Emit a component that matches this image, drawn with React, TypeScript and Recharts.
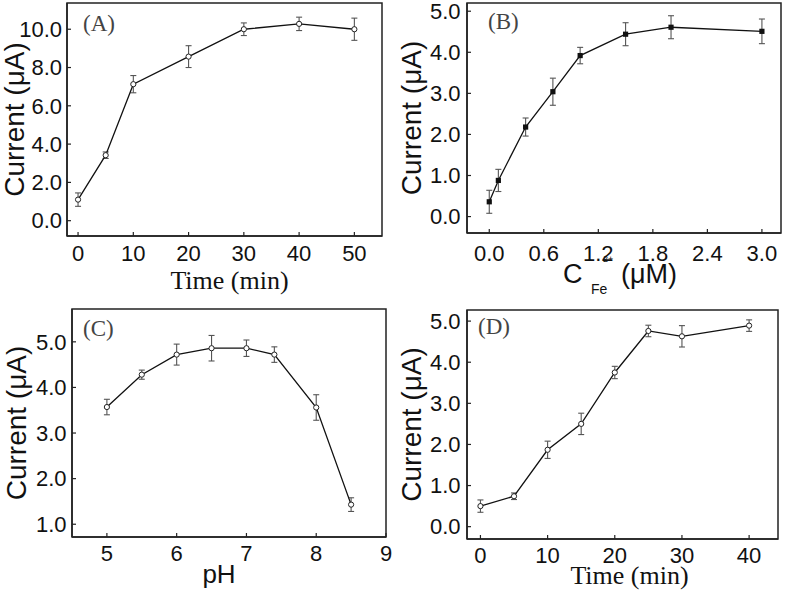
import {
  LineChart,
  Line,
  XAxis,
  YAxis,
  ErrorBar,
  ReferenceArea,
  Label,
} from "recharts";

// (A) current vs incubation time
const timeA = [0, 5, 10, 20, 30, 40, 50];
const currentA = [1.1, 3.42, 7.13, 8.57, 10.0, 10.28, 10.0];
const errA = [0.35, 0.17, 0.45, 0.57, 0.33, 0.35, 0.58];

// (B) current vs Fe2+ concentration
const concB = [0, 0.1, 0.4, 0.7, 1.0, 1.5, 2.0, 3.0];
const currentB = [0.36, 0.88, 2.18, 3.04, 3.92, 4.44, 4.61, 4.51];
const errB = [0.28, 0.27, 0.22, 0.33, 0.2, 0.28, 0.28, 0.3];

// (C) current vs pH
const phC = [5, 5.5, 6, 6.5, 7, 7.4, 8, 8.5];
const currentC = [3.57, 4.28, 4.72, 4.86, 4.86, 4.72, 3.56, 1.43];
const errC = [0.17, 0.1, 0.23, 0.28, 0.18, 0.17, 0.28, 0.15];

// (D) current vs reaction time
const timeD = [0, 5, 10, 15, 20, 25, 30, 40];
const currentD = [0.5, 0.74, 1.87, 2.5, 3.75, 4.76, 4.63, 4.89];
const errD = [0.15, 0.08, 0.21, 0.26, 0.15, 0.14, 0.26, 0.14];

const ticksA = [0, 10, 20, 30, 40, 50];
const ticksB = [0, 0.6, 1.2, 1.8, 2.4, 3.0];
const ticksC = [5, 6, 7, 8, 9];
const ticksD = [0, 10, 20, 30, 40];
const yTicksA = [0, 2, 4, 6, 8, 10];
const yTicksB = [0, 1, 2, 3, 4, 5];
const yTicksC = [1, 2, 3, 4, 5];
const yTicksD = [0, 1, 2, 3, 4, 5];

const SANS = "'Liberation Sans', Arial, sans-serif";
const SERIF = "'Liberation Serif', 'Times New Roman', serif";
const INK = "#111";
const EDGE = "#222";

const rows = (xs: number[], ys: number[], es: number[]) =>
  xs.map((x, i) => ({ x, y: ys[i], e: es[i] }));

const circleDot = (p: any) => (
  <circle key={p.index} cx={p.cx} cy={p.cy} r={2.6} fill="#fff" stroke="#222" strokeWidth={1} />
);
const squareDot = (p: any) => (
  <rect key={p.index} x={p.cx - 2.6} y={p.cy - 2.6} width={5.2} height={5.2} fill="#111" />
);

// inward tick marks, labels placed by hand
const xTick = (fmt: (v: number) => string, base: number) => (p: any) => (
  <g>
    <line x1={p.x} x2={p.x} y1={p.y} y2={p.y - 4} stroke={EDGE} strokeWidth={1.2} />
    <text x={p.x} y={p.y + base} textAnchor="middle" fontFamily={SANS} fontSize={22} fill={INK}>
      {fmt(p.payload.value)}
    </text>
  </g>
);
const yTick = (gap: number) => (p: any) => (
  <g>
    <line x1={p.x} x2={p.x + 4} y1={p.y} y2={p.y} stroke={EDGE} strokeWidth={1.2} />
    <text x={p.x - gap} y={p.y + 7.8} textAnchor="end" fontFamily={SANS} fontSize={22} fill={INK}>
      {p.payload.value.toFixed(1)}
    </text>
  </g>
);

const tag = (text: string, dx: number, dy: number) => (p: any) => (
  <text x={p.viewBox.x + dx} y={p.viewBox.y + dy} fontFamily={SERIF} fontSize={23} fill="#444">
    {text}
  </text>
);

const yTitle = (cx: number) => (p: any) => {
  const vb = p.viewBox;
  const x = vb.x + cx + 10;
  const y = vb.y + vb.height / 2;
  return (
    <text x={x} y={y} transform={`rotate(-90 ${x} ${y})`} textAnchor="middle" fontFamily={SANS} fontSize={28} fill={INK}>
      Current (μA)
    </text>
  );
};

const xTitle = (text: string, font: string, size: number, dx: number, dy: number) => (p: any) => {
  const vb = p.viewBox;
  return (
    <text x={vb.x + vb.width / 2 + dx} y={vb.y + dy} textAnchor="middle" fontFamily={font} fontSize={size} fill={INK}>
      {text}
    </text>
  );
};

const feTitle = (p: any) => {
  const vb = p.viewBox;
  const x0 = vb.x + 96;
  const b = vb.y + 50;
  return (
    <text fontFamily={SANS} fill={INK} fontSize={27}>
      <tspan x={x0} y={b}>C</tspan>
      <tspan x={x0 + 28} y={b + 11} fontSize={14}>Fe</tspan>
      <tspan x={x0 + 40} y={b - 21} fontSize={9}>2+</tspan>
      <tspan x={x0 + 58} y={b}>(μM)</tspan>
    </text>
  );
};

interface PanelProps {
  left: number;
  top: number;
  width: number;
  height: number;
  margin: { top: number; right: number; bottom: number; left: number };
  yWidth: number;
  xHeight: number;
  data: { x: number; y: number; e: number }[];
  xDomain: [number, number];
  yDomain: [number, number];
  xTicks: number[];
  yTicks: number[];
  xFmt: (v: number) => string;
  xBase: number;
  yGap: number;
  dot: (p: any) => any;
  tagContent: (p: any) => any;
  xLabel: (p: any) => any;
  yLabel: (p: any) => any;
}

function Panel(props: PanelProps) {
  return (
    <div style={{ position: "absolute", left: props.left, top: props.top }}>
      <LineChart width={props.width} height={props.height} data={props.data} margin={props.margin}>
        <XAxis
          type="number"
          dataKey="x"
          domain={props.xDomain}
          ticks={props.xTicks}
          interval={0}
          allowDataOverflow
          height={props.xHeight}
          tickLine={false}
          tickSize={0}
          tickMargin={0}
          tick={xTick(props.xFmt, props.xBase)}
          stroke={EDGE}
          strokeWidth={1.5}
        >
          <Label content={props.xLabel} />
        </XAxis>
        <YAxis
          type="number"
          domain={props.yDomain}
          ticks={props.yTicks}
          interval={0}
          allowDataOverflow
          width={props.yWidth}
          tickLine={false}
          tickSize={0}
          tickMargin={0}
          tick={yTick(props.yGap)}
          stroke={EDGE}
          strokeWidth={1.5}
        >
          <Label content={props.yLabel} />
        </YAxis>
        <ReferenceArea
          x1={props.xDomain[0]}
          x2={props.xDomain[1]}
          y1={props.yDomain[0]}
          y2={props.yDomain[1]}
          fill="none"
          fillOpacity={0}
          stroke={EDGE}
          strokeWidth={1.5}
          ifOverflow="visible"
        >
          <Label content={props.tagContent} />
        </ReferenceArea>
        <Line
          type="linear"
          dataKey="y"
          stroke={INK}
          strokeWidth={1.3}
          dot={props.dot}
          activeDot={false}
          isAnimationActive={false}
        >
          <ErrorBar dataKey="e" direction="y" width={3} stroke="#555" strokeWidth={1.1} />
        </Line>
      </LineChart>
    </div>
  );
}

export default function App() {
  return (
    <div
      style={{
        position: "absolute",
        left: 0,
        top: 0,
        width: 787,
        height: 594,
        background: "#fff",
        overflow: "hidden",
      }}
    >
      <Panel
        left={0}
        top={0}
        width={395}
        height={297}
        margin={{ top: 3, right: 13, bottom: 0, left: 0 }}
        yWidth={67}
        xHeight={61}
        data={rows(timeA, currentA, errA)}
        xDomain={[-2, 55]}
        yDomain={[-0.8, 11.37]}
        xTicks={ticksA}
        yTicks={yTicksA}
        xFmt={(v) => String(v)}
        xBase={25}
        yGap={5}
        dot={circleDot}
        tagContent={tag("(A)", 16, 28)}
        xLabel={xTitle("Time (min)", SERIF, 26, 5, 53)}
        yLabel={yTitle(14)}
      />
      <Panel
        left={395}
        top={0}
        width={392}
        height={297}
        margin={{ top: 3, right: 6, bottom: 0, left: 0 }}
        yWidth={72}
        xHeight={64}
        data={rows(concB, currentB, errB)}
        xDomain={[-0.245, 3.21]}
        yDomain={[-0.4, 5.2]}
        xTicks={ticksB}
        yTicks={yTicksB}
        xFmt={(v) => v.toFixed(1)}
        xBase={28}
        yGap={6.5}
        dot={squareDot}
        tagContent={tag("(B)", 21, 26)}
        xLabel={feTitle}
        yLabel={yTitle(16)}
      />
      <Panel
        left={0}
        top={297}
        width={395}
        height={297}
        margin={{ top: 12, right: 9, bottom: 0, left: 0 }}
        yWidth={72}
        xHeight={57}
        data={rows(phC, currentC, errC)}
        xDomain={[4.5, 9]}
        yDomain={[0.72, 5.72]}
        xTicks={ticksC}
        yTicks={yTicksC}
        xFmt={(v) => String(v)}
        xBase={24}
        yGap={5.5}
        dot={circleDot}
        tagContent={tag("(C)", 11, 27)}
        xLabel={xTitle("pH", SANS, 26, -10, 46)}
        yLabel={yTitle(16)}
      />
      <Panel
        left={395}
        top={297}
        width={392}
        height={297}
        margin={{ top: 13, right: 9, bottom: 0, left: 0 }}
        yWidth={72}
        xHeight={55}
        data={rows(timeD, currentD, errD)}
        xDomain={[-2, 44.3]}
        yDomain={[-0.3, 5.27]}
        xTicks={ticksD}
        yTicks={yTicksD}
        xFmt={(v) => String(v)}
        xBase={23.5}
        yGap={6.5}
        dot={circleDot}
        tagContent={tag("(D)", 11, 24)}
        xLabel={xTitle("Time (min)", SERIF, 26, 7, 45)}
        yLabel={yTitle(16)}
      />
    </div>
  );
}
